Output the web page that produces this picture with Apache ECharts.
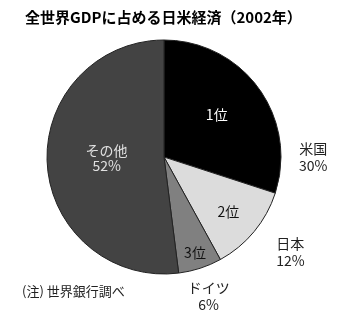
<!DOCTYPE html>
<html><head><meta charset="utf-8">
<script src="https://cdn.jsdelivr.net/npm/echarts@6/dist/echarts.min.js"></script>
<style>html,body{margin:0;padding:0;background:#fff}#c{width:350px;height:325px}</style>
</head><body><div id="c"></div>
<script>
const countries = ['米国', '日本', 'ドイツ', 'その他'];
const shares = [30, 12, 6, 52];
const ranks = ['1位', '2位', '3位', 'その他'];
const titleText = '全世界GDPに占める日米経済（2002年）';
const noteText = '(注) 世界銀行調べ';

const colors = ['#000000', '#dcdcdc', '#808080', '#434343'];
const innerColors = ['#ffffff', '#111111', '#111111', '#e0e0e0'];
const innerShift = [[3, -6], [17, 15], [12, 37], [4, -3]];
const outerShift = [[27, 89], [10, -1], [-2, -4], [0, 0]];
const FONT = '"Noto Sans CJK JP", "Noto Sans", sans-serif';

const innerData = countries.map((c, i) => ({
  name: c, value: shares[i],
  itemStyle: { color: colors[i] },
  label: { color: innerColors[i], formatter: i === 3 ? '{b}\n{d}%' : ranks[i] }
}));
const outerData = countries.map((c, i) => ({
  name: c, value: shares[i],
  label: { show: i !== 3 }
}));

const chart = echarts.init(document.getElementById('c'));
chart.setOption({
  animation: false,
  title: {
    text: titleText, left: 20, top: 5,
    textStyle: { fontFamily: FONT, fontSize: 15, fontWeight: 'bold', color: '#000' }
  },
  graphic: [{
    type: 'text', left: 22, top: 285,
    style: { text: noteText, font: '13px ' + FONT, fill: '#222' }
  }],
  series: [{
    type: 'pie', center: [164, 157], radius: [0, 117],
    startAngle: 90, clockwise: true, avoidLabelOverlap: false, silent: true,
    itemStyle: { borderColor: '#222', borderWidth: 1 },
    label: { show: true, position: 'inside', fontFamily: FONT, fontSize: 14, lineHeight: 15 },
    labelLine: { show: false },
    labelLayout: p => ({ dx: innerShift[p.dataIndex][0], dy: innerShift[p.dataIndex][1] }),
    data: innerData
  }, {
    type: 'pie', center: [164, 157], radius: [117, 179],
    startAngle: 90, clockwise: true, avoidLabelOverlap: false, silent: true,
    itemStyle: { color: 'rgba(0,0,0,0)', borderWidth: 0 },
    label: { show: true, position: 'inside', formatter: '{b}\n{d}%', color: '#222',
             fontFamily: FONT, fontSize: 14, lineHeight: 17 },
    labelLine: { show: false },
    labelLayout: p => ({ dx: outerShift[p.dataIndex][0], dy: outerShift[p.dataIndex][1] }),
    data: outerData
  }]
});
</script></body></html>
